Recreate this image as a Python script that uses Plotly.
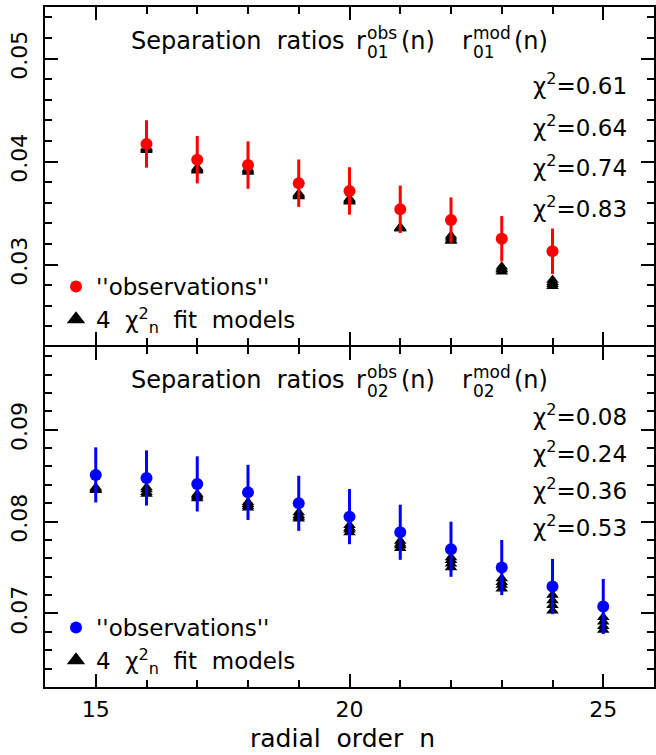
import plotly.graph_objects as go

# ---------------- data ----------------
n_r01 = [16, 17, 18, 19, 20, 21, 22, 23, 24]
r01_obs = [0.04171, 0.04018, 0.03966, 0.03790, 0.03715, 0.03537, 0.03432, 0.03251, 0.03130]
r01_err = [0.0023, 0.0023, 0.0023, 0.0023, 0.0023, 0.0023, 0.0022, 0.0022, 0.0022]
r01_mod_1 = [0.0414, 0.0394, 0.0393, 0.0369, 0.0364, 0.0336, 0.0328, 0.0298, 0.0285]
r01_mod_2 = [0.0413, 0.0393, 0.0392, 0.0368, 0.0363, 0.0336, 0.0326, 0.0296, 0.0283]
r01_mod_3 = [0.0412, 0.0392, 0.0391, 0.0367, 0.0362, 0.0335, 0.0324, 0.0295, 0.0281]
r01_mod_4 = [0.0411, 0.0391, 0.0390, 0.0366, 0.0361, 0.0335, 0.0323, 0.0293, 0.0279]

n_r02 = [15, 16, 17, 18, 19, 20, 21, 22, 23, 24, 25]
r02_obs = [0.08508, 0.08475, 0.08410, 0.08318, 0.08199, 0.08054, 0.07884, 0.07699, 0.07500, 0.07293, 0.07076]
r02_err = [0.0030, 0.0030, 0.0030, 0.0030, 0.0030, 0.0030, 0.0030, 0.0030, 0.0030, 0.0030, 0.0030]
r02_mod_1 = [0.0837, 0.0837, 0.0830, 0.0821, 0.0810, 0.0796, 0.0779, 0.0761, 0.0738, 0.0720, 0.0696]
r02_mod_2 = [0.0836, 0.0835, 0.0829, 0.0819, 0.0807, 0.0793, 0.0776, 0.0758, 0.0734, 0.0714, 0.0691]
r02_mod_3 = [0.0835, 0.0832, 0.0827, 0.0817, 0.0805, 0.0791, 0.0774, 0.0754, 0.0731, 0.0709, 0.0686]
r02_mod_4 = [0.0834, 0.0830, 0.0825, 0.0815, 0.0803, 0.0788, 0.0771, 0.0750, 0.0727, 0.0703, 0.0682]

chi2_r01 = ["0.61", "0.64", "0.74", "0.83"]
chi2_r02 = ["0.08", "0.24", "0.36", "0.53"]

x_ticks = [15, 20, 25]
y_ticks_r01 = [0.03, 0.04, 0.05]
y_ticks_r02 = [0.07, 0.08, 0.09]
y_ticktext_r01 = ["0.03", "0.04", "0.05"]
y_ticktext_r02 = ["0.07", "0.08", "0.09"]

# ---------------- layout helpers ----------------
FONT = "DejaVu Sans"
W, H = 656, 755
ML, MR, MT, MB = 45, 2, 7, 68
PW = W - ML - MR
PH = H - MT - MB


def px(x):
    return (x - ML) / PW


def py(y):
    return (H - MB - y) / PH


NB = "\u00a0"

fig = go.Figure()


def add_panel(n, obs, err, mods, color, xa, ya, leg):
    for m in mods:
        fig.add_trace(go.Scatter(
            x=n, y=m, mode="markers",
            marker=dict(symbol="triangle-up", size=11, color="black"),
            xaxis=xa, yaxis=ya, showlegend=False, hoverinfo="x+y"))
    fig.add_trace(go.Scatter(
        x=n, y=obs, mode="markers",
        marker=dict(symbol="circle", size=12, color=color),
        error_y=dict(type="data", array=err, color=color, thickness=3, width=0),
        xaxis=xa, yaxis=ya, showlegend=False))
    # legend entries
    fig.add_trace(go.Scatter(
        x=[None], y=[None], mode="markers",
        marker=dict(symbol="circle", size=12, color=color),
        name="''observations''", legend=leg, legendgroup=leg + "a",
        xaxis=xa, yaxis=ya))
    fig.add_trace(go.Scatter(
        x=[None], y=[None], mode="markers",
        marker=dict(symbol="triangle-up", size=16, color="black"),
        name="4" + NB * 2 + "χ<sup>2</sup><sub>n</sub>" + NB * 2 + "fit" + NB * 2 + "models",
        legend=leg, legendgroup=leg + "b",
        xaxis=xa, yaxis=ya))


add_panel(n_r01, r01_obs, r01_err, [r01_mod_1, r01_mod_2, r01_mod_3, r01_mod_4],
          "#ff0000", "x", "y", "legend")
add_panel(n_r02, r02_obs, r02_err, [r02_mod_1, r02_mod_2, r02_mod_3, r02_mod_4],
          "#0000ff", "x2", "y2", "legend2")

axis_common = dict(
    showline=True, linecolor="black", linewidth=2, mirror="ticks",
    ticks="inside", ticklen=13, tickwidth=2, tickcolor="black",
    showgrid=False, zeroline=False,
    tickfont=dict(family=FONT, size=22, color="black"),
)
minor_x = dict(dtick=1, tick0=0, ticks="inside", ticklen=7, tickwidth=2,
               tickcolor="black", showgrid=False)
minor_y = dict(dtick=0.002, tick0=0, ticks="inside", ticklen=7, tickwidth=2,
               tickcolor="black", showgrid=False)

# top panel starts 2px higher so its bottom frame line coincides with the
# bottom panel's top frame line
TOP_START = 0.5 + 2 / PH

fig.update_layout(
    width=W, height=H,
    margin=dict(l=ML, r=MR, t=MT, b=MB, pad=0, autoexpand=False),
    paper_bgcolor="white", plot_bgcolor="white",
    font=dict(family=FONT, color="black"),
    xaxis=dict(axis_common, domain=[0, 1], range=[14, 26], anchor="y",
               tickvals=x_ticks, showticklabels=False, minor=minor_x),
    xaxis2=dict(axis_common, domain=[0, 1], range=[14, 26], anchor="y2",
                tickvals=x_ticks, ticktext=[str(v) for v in x_ticks],
                ticklabelstandoff=2, minor=minor_x),
    yaxis=dict(axis_common, domain=[TOP_START, 1], range=[0.0222, 0.055], anchor="x",
               tickvals=y_ticks_r01, ticktext=y_ticktext_r01, tickangle=-90,
               ticklabelstandoff=7, minor=minor_y),
    yaxis2=dict(axis_common, domain=[0, 0.5], range=[0.062, 0.099], anchor="x2",
                tickvals=y_ticks_r02, ticktext=y_ticktext_r02, tickangle=-90,
                ticklabelstandoff=7, minor=minor_y),
    legend=dict(x=px(56), y=py(265), xanchor="left", yanchor="top",
                bgcolor="rgba(0,0,0,0)", borderwidth=0,
                font=dict(family=FONT, size=23, color="black"),
                traceorder="grouped", tracegroupgap=0),
    legend2=dict(x=px(56), y=py(606), xanchor="left", yanchor="top",
                 bgcolor="rgba(0,0,0,0)", borderwidth=0,
                 font=dict(family=FONT, size=23, color="black"),
                 traceorder="grouped", tracegroupgap=0),
    showlegend=True,
)

annotations = []


def ann(text, x, y, size, xanchor="left"):
    annotations.append(dict(
        text=text, x=px(x), y=py(y), xref="paper", yref="paper",
        xanchor=xanchor, yanchor="middle", showarrow=False,
        font=dict(family=FONT, size=size, color="black")))


def panel_title(sub, dy):
    ann("Separation" + NB * 2 + "ratios", 129, 40.7 + dy, 24)
    ann("r", 354, 40.7 + dy, 24)
    ann("obs", 365, 33.4 + dy, 17)
    ann(sub, 365, 52.4 + dy, 17)
    ann("(n)", 399, 40.7 + dy, 24)
    ann("r", 460, 40.7 + dy, 24)
    ann("mod", 471, 33.4 + dy, 17)
    ann(sub, 471, 52.4 + dy, 17)
    ann("(n)", 512, 40.7 + dy, 24)


panel_title("01", 0)
panel_title("02", 339)

for val, yc in zip(chi2_r01, [84, 125.7, 166, 207.5]):
    ann("χ<sup>2</sup>=" + val, 531, yc, 23)
for val, yc in zip(chi2_r02, [414.5, 452, 489, 526]):
    ann("χ<sup>2</sup>=" + val, 531, yc, 23)

ann("radial" + NB * 2 + "order" + NB * 2 + "n", 342, 738, 25, xanchor="center")

fig.update_layout(annotations=annotations)

fig.write_html(
    "out.html",
    config={"displayModeBar": False},
    post_script="document.body.style.margin='0px';document.body.style.overflow='hidden';",
)
